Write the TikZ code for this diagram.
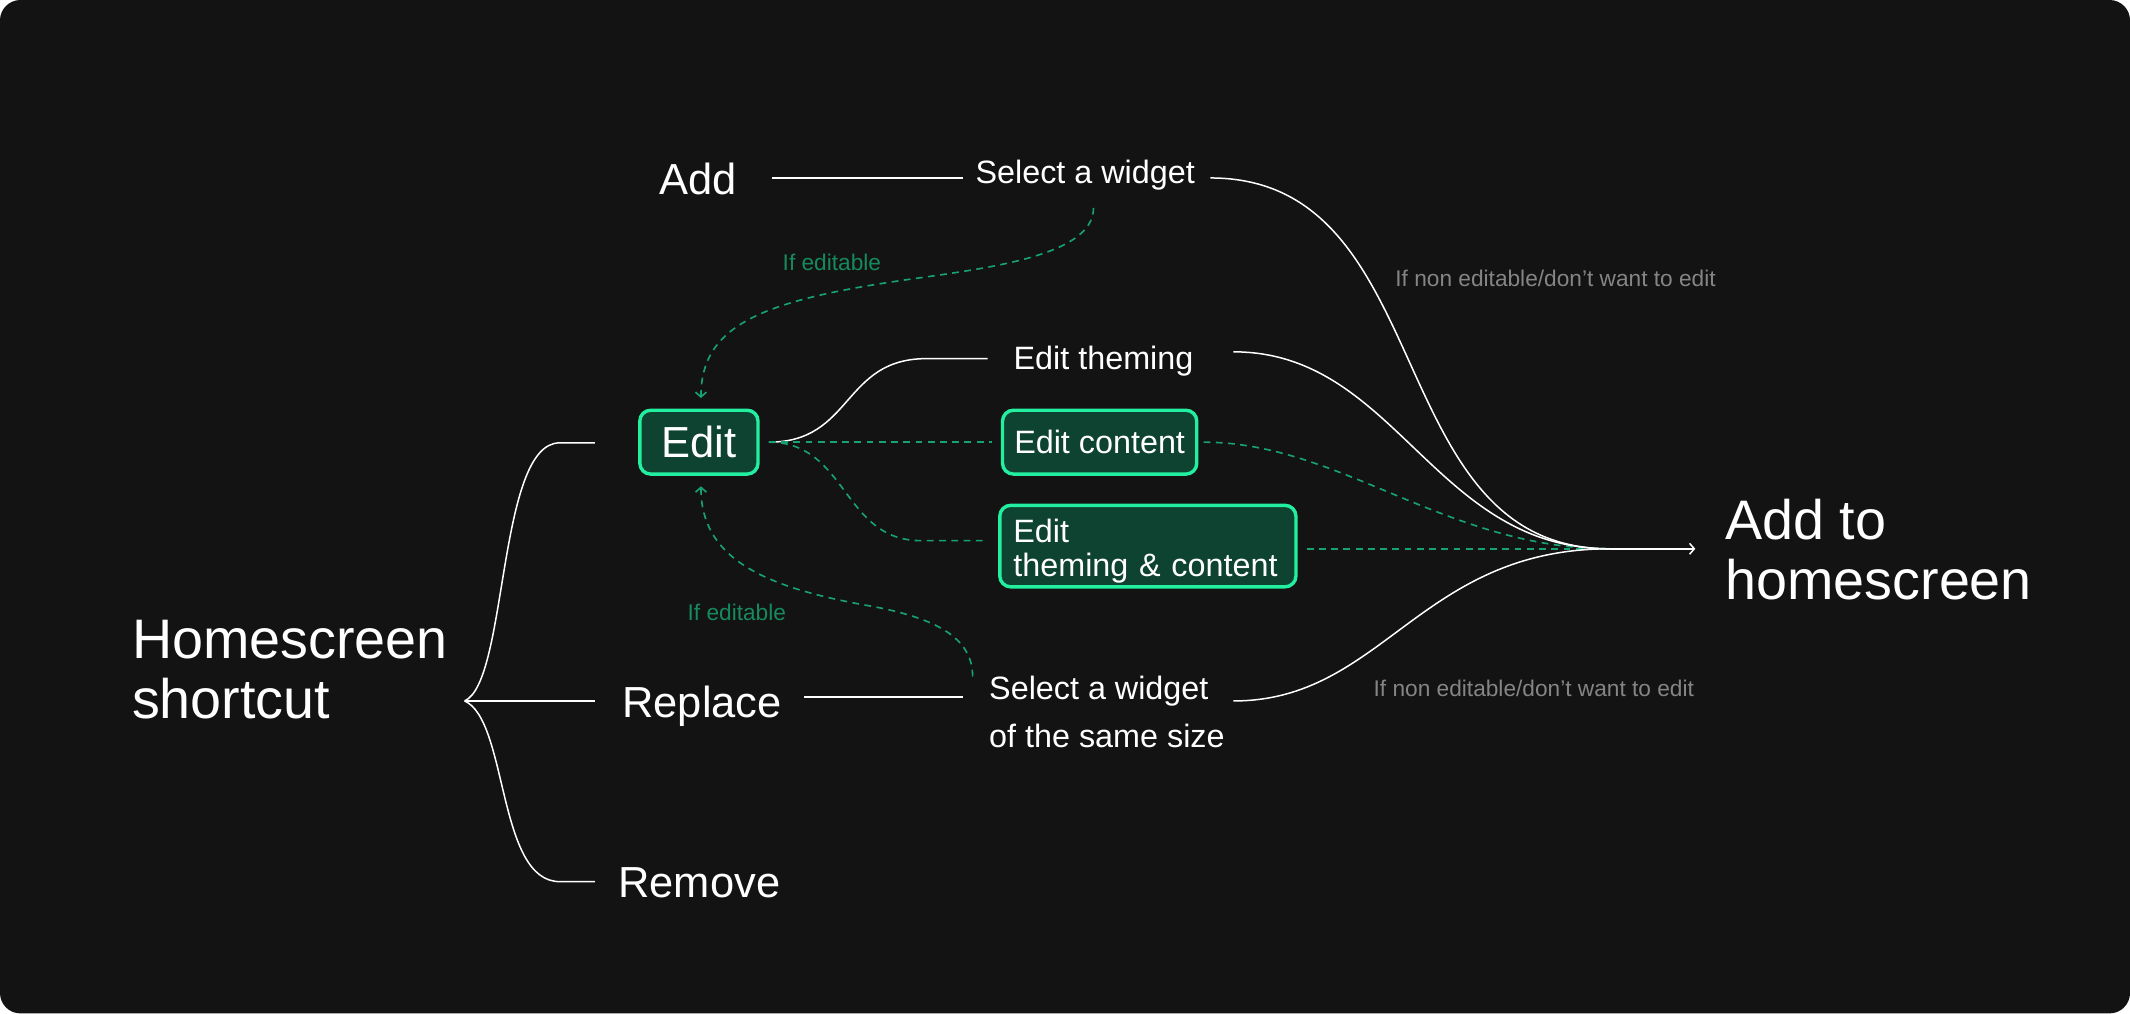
\documentclass[tikz,border=0pt]{standalone}
\usepackage{fontspec}
\setmainfont{Liberation Sans}
\usetikzlibrary{arrows.meta,calc}
\definecolor{bg}{HTML}{131313}
\definecolor{mint}{HTML}{22EFA0}
\definecolor{boxfill}{HTML}{0E4331}
\definecolor{dashgreen}{HTML}{17A274}
\definecolor{lblgreen}{HTML}{168A5E}
\definecolor{lblgray}{HTML}{858585}
\begin{document}
\begin{tikzpicture}[x=1pt,y=-1pt,
  txt/.style={text=white, inner sep=0pt, anchor=base west, align=left},
  bigtxt/.style={txt, font=\fontsize{41}{44}\selectfont},
  midtxt/.style={txt, font=\fontsize{32}{36}\selectfont},
  smalltxt/.style={txt, font=\fontsize{23.8}{35}\selectfont},
  lbl/.style={inner sep=0pt, anchor=base west, font=\fontsize{16.7}{18}\selectfont},
  greenbox/.style={draw=mint, line width=2.5pt, fill=boxfill, rounded corners=8pt, text=white, inner sep=0pt},
  wire/.style={draw=white, line width=1.1pt},
  thickwire/.style={draw=white, line width=2pt},
  dashwire/.style={draw=dashgreen, line width=1.2pt, dash pattern=on 5pt off 4pt},
  tip/.style={-{Straight Barb[length=3.5pt,width=8pt]}}
]
\fill[white] (0,0) rectangle (1568,746);
\fill[bg, rounded corners=15pt] (0,0) rectangle (1568,746);
\useasboundingbox (0,0) rectangle (1568,746);

% nodes (multi-line nodes are placed by the baseline of their last line)
\node[bigtxt] (hs) at (97,529) {Homescreen\\shortcut};
\node[midtxt] (add) at (485,143) {Add};
\node[midtxt] (rep) at (458,528) {Replace};
\node[midtxt] (rem) at (455,661) {Remove};
\node[smalltxt] (sel1) at (718,135) {Select a widget};
\node[smalltxt] (them) at (746,272) {Edit theming};
\node[smalltxt] (sel2) at (728,550) {Select a widget\\of the same size};
\node[bigtxt] (dest) at (1270,441) {Add to\\homescreen};
\node[greenbox, minimum width=87pt, minimum height=47pt, font=\fontsize{32}{36}\selectfont] (edit) at (514.5,325.5) {Edit};
\node[greenbox, minimum width=143pt, minimum height=47pt, font=\fontsize{23.8}{28}\selectfont] (content) at (809.5,325.5) {Edit content};
\node[greenbox, minimum width=218pt, minimum height=60pt, text width=198pt, align=left, font=\fontsize{23.8}{25}\selectfont] (both) at (845,402) {\rule{0pt}{25pt}Edit\\theming \& content};
\node[lbl, text=lblgreen] (ife1) at (576,199) {If editable};
\node[lbl, text=lblgreen] (ife2) at (506,457) {If editable};
\node[lbl, text=lblgray] (ne1) at (1027,211) {If non editable/don’t want to edit};
\node[lbl, text=lblgray] (ne2) at (1011,513) {If non editable/don’t want to edit};

% ports
\coordinate (M) at (1185,404);
\coordinate (A) at (1248,404);
\coordinate (hsR) at (342,516);
\coordinate (editL) at (438,326);
\coordinate (repL) at (438,516);
\coordinate (remL) at (438,649);
\coordinate (addR) at (568,131);
\coordinate (sel1L) at (709,131);
\coordinate (sel1R) at (891,131);
\coordinate (repR) at (592,513);
\coordinate (sel2L) at (709,513);
\coordinate (sel2R) at (908,516);
\coordinate (themL) at (727,264);
\coordinate (themR) at (908,259);
\coordinate (editR) at (566,325.5);
\coordinate (contL) at (730,325.5);
\coordinate (contR) at (886,325.5);
\coordinate (bothL) at (727,398);
\coordinate (bothR) at (962,404);
\coordinate (sel1B) at (805,153);
\coordinate (sel2B) at (716,498);
\coordinate (editT) at (516,293);
\coordinate (editB) at (516,358);

% brace
\draw[wire] (hsR) .. controls (374,502) and (366,326) .. (412,326) -- (editL);
\draw[wire] (hsR) -- (repL);
\draw[wire] (hsR) .. controls (374,530) and (366,649) .. (412,649) -- (remL);

% straight links
\draw[thickwire] (addR) -- (sel1L);
\draw[thickwire] (repR) -- (sel2L);

% edit branches
\draw[wire] (editR) .. controls +(62,0) and +(-62,0) .. (682,264) -- (themL);
\draw[dashwire] (editR) -- (contL);
\draw[dashwire] (editR) .. controls +(58,0) and +(-58,0) .. (678,398) -- (bothL);

% merge
\draw[dashwire] (contR) .. controls +(100,0) and +(-120,0) .. (M);
\draw[dashwire] (bothR) -- (M);
\draw[wire] (sel1R) .. controls +(170,0) and +(-170,0) .. (M);
\draw[wire] (themR) .. controls +(120,0) and +(-130,0) .. (M);
\draw[wire] (sel2R) .. controls +(110,0) and +(-140,0) .. (M);
\draw[wire, tip] (M) -- (A);

% if editable arrows
\draw[dashwire, tip] (sel1B) .. controls (805,190) and (720,198) .. (660,207) .. controls (560,222) and (516,240) .. (editT);
\draw[dashwire, tip] (sel2B) .. controls (716,470) and (690,455) .. (640,446) .. controls (560,432) and (516,410) .. (editB);
\end{tikzpicture}
\end{document}
